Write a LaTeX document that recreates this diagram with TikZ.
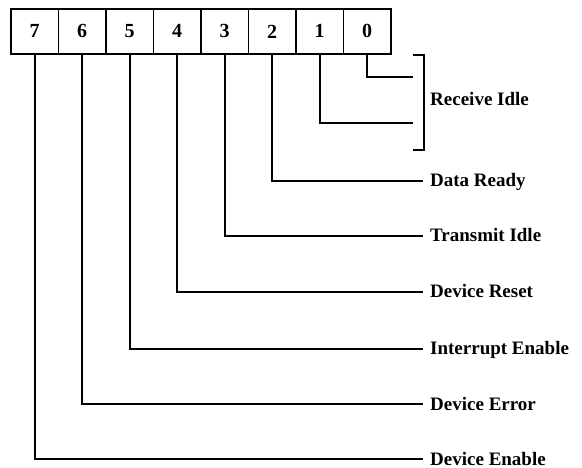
\documentclass[tikz,border=0pt]{standalone}
\usepackage{fontspec}
\setmainfont{Liberation Serif}
\begin{document}
\begin{tikzpicture}[x=1pt,y=-1pt,
  bitbox/.style={draw,line width=1.8pt,minimum width=47.5pt,minimum height=45pt,inner sep=0pt,anchor=north west,font=\fontsize{20}{20}\selectfont\bfseries},
  wire/.style={line width=2pt},
  lbl/.style={anchor=base west,inner sep=0pt,font=\fontsize{19}{20}\selectfont\bfseries}]
\useasboundingbox (0,0) rectangle (582,468);
% register boxes
\foreach \b [count=\k from 0] in {7,6,5,4,3,2,1,0}
  \node[bitbox] (b\b) at ({10+47.5*\k},8) {\b};
% end points of connectors
\coordinate (e0) at (413,77);
\coordinate (e1) at (413,123);
\coordinate (e2) at (423,181);
\coordinate (e3) at (423,236);
\coordinate (e4) at (423,292);
\coordinate (e5) at (423,349);
\coordinate (e6) at (423,404);
\coordinate (e7) at (423,459);
\foreach \b in {0,...,7}
  \draw[wire] (b\b.south) |- (e\b);
% bracket
\coordinate (bt) at (413,55);
\coordinate (bb) at (413,150);
\draw[wire] (bt) -- ++(11,0) |- (bb);
% labels
\node[lbl] (l01) at (430,106) {Receive Idle};
\node[lbl] (l2) at (430,187) {Data Ready};
\node[lbl] (l3) at (430,242) {Transmit Idle};
\node[lbl] (l4) at (430,298) {Device Reset};
\node[lbl] (l5) at (430,355) {Interrupt Enable};
\node[lbl] (l6) at (430,410) {Device Error};
\node[lbl] (l7) at (430,465) {Device Enable};
\end{tikzpicture}
\end{document}
